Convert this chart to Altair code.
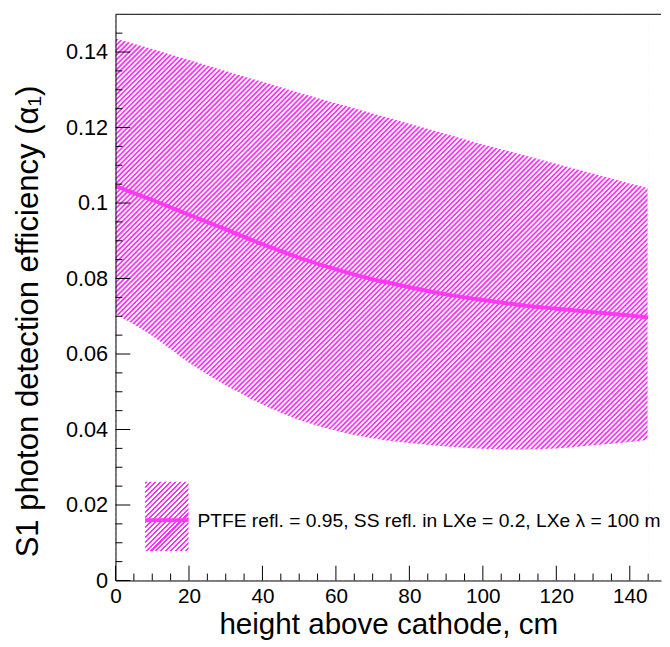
import altair as alt
import numpy as np
import pandas as pd

# ---- data ----
height_cm = [0, 10, 20, 30, 40, 50, 60, 70, 80, 90, 100, 110, 120, 130, 140, 145]
band_upper = [0.1436, 0.1408, 0.1379, 0.1350, 0.1321, 0.1292, 0.1264, 0.1237,
              0.1210, 0.1183, 0.1155, 0.1130, 0.1104, 0.1078, 0.1052, 0.1040]
band_lower = [0.0706, 0.0648, 0.0577, 0.0517, 0.0466, 0.0425, 0.0397, 0.0377,
              0.0364, 0.0355, 0.0349, 0.0347, 0.0350, 0.0358, 0.0367, 0.0373]
central = [0.1045, 0.1008, 0.0969, 0.0930, 0.0891, 0.0855, 0.0824, 0.0798,
           0.0777, 0.0758, 0.0743, 0.0730, 0.0720, 0.0711, 0.0702, 0.0697]

x_major = [0, 20, 40, 60, 80, 100, 120, 140]
x_minor = [5, 10, 15, 25, 30, 35, 45, 50, 55, 65, 70, 75, 85, 90, 95,
           105, 110, 115, 125, 130, 135, 145]
y_major = [0, 0.02, 0.04, 0.06, 0.08, 0.10, 0.12, 0.14]
y_minor = [0.005, 0.01, 0.015, 0.025, 0.03, 0.035, 0.045, 0.05, 0.055,
           0.065, 0.07, 0.075, 0.085, 0.09, 0.095, 0.105, 0.11, 0.115,
           0.125, 0.13, 0.135, 0.145]

legend_label = ["PTFE refl. = 0.95, SS refl. in LXe = 0.2, LXe \u03bb = 100 m"]
x_title = "height above cathode, cm"
y_title = "S1 photon detection efficiency (\u03b1\u2081)"

# ---- styling ----
W, H = 553, 574
XMAX, YMAX = 148.5, 0.15
MAGENTA = "#ff2eff"
LINE = "#ff38f2"
FONT = "Liberation Sans"
HATCH_PERIOD = 5.0  # horizontal pixel period of the '/' hatch lines


def hatch(bw, bh, period=HATCH_PERIOD, frac=0.42, color=MAGENTA):
    """Diagonal '/' stripes as a hard-stop linear gradient (used for the small legend box)."""
    k = (bw + bh) / (bw * bw + bh * bh)
    step = period / (bw + bh)
    stops = []
    t = 0.0
    while t < 1.0:
        b = min(1.0, t + frac * step)
        c = min(1.0, t + step)
        stops += [
            {"offset": t, "color": color},
            {"offset": b, "color": color},
            {"offset": b, "color": "#ffffff"},
            {"offset": c, "color": "#ffffff"},
        ]
        t += step
    return {"gradient": "linear", "x1": 0, "y1": 0,
            "x2": bw * k, "y2": bh * k, "stops": stops}


df = pd.DataFrame({"h": height_cm, "up": band_upper, "lo": band_lower, "c": central})

xs = alt.Scale(domain=[0, XMAX], nice=False, zero=False)
ys = alt.Scale(domain=[0, YMAX], nice=False, zero=False)

# hatch lines (pure decoration): lines px + py = c in plot pixels, expressed in data units
cs = np.arange(2.0, W + H + HATCH_PERIOD, HATCH_PERIOD)
hatch_df = pd.DataFrame({
    "xa": (cs - H) / W * XMAX, "ya": 0.0,
    "xb": cs / W * XMAX, "yb": YMAX,
})

xaxis = alt.Axis(values=x_major, ticks=False, domainColor="black", domainWidth=1, zindex=1,
                 labelFont=FONT, labelFontSize=21, labelColor="black", labelPadding=5,
                 labelFlush=False, grid=False,
                 title=x_title, titleFont=FONT, titleFontSize=30, titleFontWeight="normal",
                 titleColor="black", titleBaseline="alphabetic", titleY=54)
yaxis = alt.Axis(values=y_major, format="~g", ticks=False, domainColor="black", zindex=1,
                 domainWidth=1, labelFont=FONT, labelFontSize=22, labelColor="black",
                 labelPadding=8, labelFlush=False, grid=False,
                 title=y_title, titleFont=FONT, titleFontSize=31.5,
                 titleFontWeight="normal", titleColor="black", titleAngle=-90,
                 titleBaseline="alphabetic", titleAlign="center",
                 titleX=-79, titleY=311)

hatch_lines = alt.Chart(hatch_df).mark_rule(color=MAGENTA, strokeWidth=1.7, clip=True).encode(
    x=alt.X("xa:Q", scale=xs, axis=xaxis),
    y=alt.Y("ya:Q", scale=ys, axis=yaxis),
    x2="xb:Q", y2="yb:Q",
)

base = alt.Chart(df)
mask_top = base.mark_area(color="white", interpolate="monotone", clip=True).encode(
    x=alt.X("h:Q", scale=xs), y=alt.Y("up:Q", scale=ys), y2=alt.datum(YMAX)
)
mask_bottom = base.mark_area(color="white", interpolate="monotone", clip=True).encode(
    x=alt.X("h:Q", scale=xs), y=alt.Y("lo:Q", scale=ys), y2=alt.datum(0)
)
mask_right = alt.Chart(pd.DataFrame({"a": [max(height_cm)], "b": [XMAX]})).mark_rect(
    color="white", stroke="white", strokeWidth=1.2, clip=True).encode(
    x=alt.X("a:Q", scale=xs), x2="b:Q", y=alt.value(-2), y2=alt.value(H + 2)
)

line = base.mark_line(color=LINE, strokeWidth=4, interpolate="monotone").encode(
    x=alt.X("h:Q", scale=xs), y=alt.Y("c:Q", scale=ys)
)

one = pd.DataFrame({"label": legend_label})
leg_box = alt.Chart(one).mark_rect(fill=hatch(44, 70)).encode(
    x=alt.value(30), x2=alt.value(74), y=alt.value(474), y2=alt.value(544)
)
leg_line = alt.Chart(one).mark_rule(color=LINE, strokeWidth=4).encode(
    x=alt.value(30), x2=alt.value(74), y=alt.value(513)
)
leg_text = alt.Chart(one).mark_text(align="left", baseline="middle", font=FONT,
                                    fontSize=19.5, color="black").encode(
    x=alt.value(83), y=alt.value(514), text="label:N"
)


def ticks_x(vals, length):
    return alt.Chart(pd.DataFrame({"v": vals})).mark_rule(color="black", strokeWidth=1).encode(
        x=alt.X("v:Q", scale=xs), y=alt.value(H), y2=alt.value(H - length)
    )


def ticks_y(vals, length):
    return alt.Chart(pd.DataFrame({"v": vals})).mark_rule(color="black", strokeWidth=1).encode(
        y=alt.Y("v:Q", scale=ys), x=alt.value(0), x2=alt.value(length)
    )


top_border = alt.Chart(one).mark_rule(color="black", strokeWidth=1).encode(
    x=alt.value(0), x2=alt.value(W), y=alt.value(0)
)

chart = alt.layer(
    hatch_lines, mask_top, mask_bottom, mask_right,
    line, leg_box, leg_line, leg_text,
    ticks_x(x_major, 15), ticks_x(x_minor, 7),
    ticks_y(y_major, 15), ticks_y(y_minor, 7),
    top_border,
).properties(
    width=W, height=H,
    padding={"left": 5, "top": 1, "right": 0, "bottom": 0},
    background="white",
).configure_view(stroke=None)

chart.save("out.html", embed_options={"renderer": "svg", "actions": False})
